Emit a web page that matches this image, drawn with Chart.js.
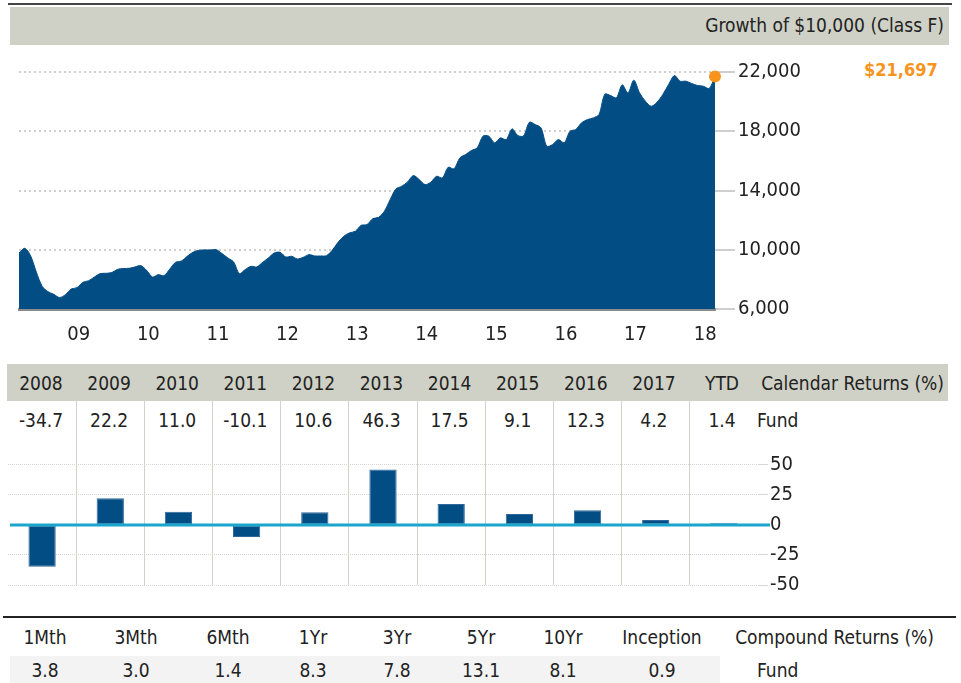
<!DOCTYPE html>
<html><head><meta charset="utf-8">
<script src="https://cdn.jsdelivr.net/npm/chart.js@4.4.1/dist/chart.umd.min.js"></script>
<style>
html,body{margin:0;padding:0;background:#fff;}
body{width:961px;height:683px;position:relative;overflow:hidden;font-family:'Liberation Sans Narrow','DejaVu Sans Condensed','Roboto Condensed',Roboto,sans-serif;color:#222;}
.abs{position:absolute;}
.cell{position:absolute;text-align:center;font-size:19px;line-height:20px;white-space:nowrap;}
.lbl{position:absolute;font-size:19px;line-height:20px;white-space:nowrap;}
canvas{position:absolute;}
</style></head>
<body>
<div class="abs" style="left:8px;top:3px;width:944px;height:2px;background:#444;"></div>
<div class="abs" style="left:10px;top:7px;width:939px;height:38px;background:#cfd1c6;"></div>
<div class="lbl" style="right:17px;top:15px;">Growth of $10,000 (Class F)</div>
<div id="endLabel" class="lbl" style="left:864px;top:60px;color:#f7941d;font-weight:bold;font-size:18px;"></div>

<canvas id="growth" width="830" height="300" style="left:0;top:50px;width:830px;height:300px;"></canvas>

<div class="abs" style="left:7px;top:364px;width:941px;height:37px;background:#cfd1c6;"></div>
<div id="calHead"></div>
<div class="lbl" style="right:17px;top:373px;">Calendar Returns (%)</div>
<div id="calVals"></div>
<div class="lbl" style="left:757px;top:410px;">Fund</div>

<canvas id="bars" width="830" height="220" style="left:0;top:381px;width:830px;height:220px;"></canvas>

<div class="abs" style="left:3px;top:616px;width:953px;height:2px;background:#222;"></div>
<div class="abs" style="left:10px;top:656px;width:710px;height:27px;background:#f3f3f3;"></div>
<div id="compHead"></div>
<div id="compVals"></div>
<div class="lbl" style="right:27px;top:627px;">Compound Returns (%)</div>
<div class="lbl" style="left:757px;top:660px;">Fund</div>

<script>
// ---------- data ----------
const growthValues = [
 9780,10100,9600,8480,7530,7170,6990,6770,6970,7350,7440,7800,
 7910,8160,8390,8410,8460,8680,8730,8750,8840,8930,8610,8160,
 8320,8250,8700,9150,9240,9560,9830,9960,9990,9990,10010,9740,
 9450,9180,8390,8660,8880,8840,9150,9450,9780,9830,9510,9560,
 9380,9490,9670,9580,9580,9600,9960,10500,10910,11140,11250,11650,
 11700,12100,12190,12600,13390,14110,14290,14580,15010,14740,14400,14560,
 14960,14850,15570,15460,16200,16430,16700,16880,17670,17670,17220,17550,
 17440,18160,17710,17690,18610,18450,18230,16990,17100,17440,17220,18000,
 18120,18570,18790,18900,19130,20500,20410,20260,21130,20590,21450,20590,
 20030,19690,19960,20480,21160,21760,21380,21380,21220,21090,21040,20890,
 21697
];
const yearTickLabels = ['09','10','11','12','13','14','15','16','17','18'];
const growthTicks = [6000,10000,14000,18000,22000];

const calendarYears = ['2008','2009','2010','2011','2012','2013','2014','2015','2016','2017','YTD'];
const calendarReturns = [-34.7,22.2,11.0,-10.1,10.6,46.3,17.5,9.1,12.3,4.2,1.4];
const barTicks = [-50,-25,0,25,50];

const compoundPeriods = ['1Mth','3Mth','6Mth','1Yr','3Yr','5Yr','10Yr','Inception'];
const compoundReturns = [3.8,3.0,1.4,8.3,7.8,13.1,8.1,0.9];

// ---------- styles ----------
const FONT = "'Liberation Sans Narrow','DejaVu Sans Condensed','Roboto Condensed',Roboto,sans-serif";
const NAVY = '#034d85';
const ORANGE = '#f7941d';

// ---------- html table text ----------
function cells(id, arr, centers, top){
  const el = document.getElementById(id);
  arr.forEach((t,i)=>{
    const d = document.createElement('div');
    d.className='cell';
    d.style.left = (centers[i]-45)+'px';
    d.style.width = '90px';
    d.style.top = top+'px';
    d.textContent = t;
    el.appendChild(d);
  });
}
const calCenters = calendarYears.map((_,i)=>41+68.1*i);
cells('calHead', calendarYears, calCenters, 373);
cells('calVals', calendarReturns.map(v=>v.toFixed(1)), calCenters, 410);
const compCenters = [45,136,228,313,397,481,563,662];
cells('compHead', compoundPeriods, compCenters, 627);
cells('compVals', compoundReturns.map(v=>v.toFixed(1)), compCenters, 660);

const lastVal = growthValues[growthValues.length-1];
document.getElementById('endLabel').textContent = '$' + lastVal.toLocaleString('en-US');

// ---------- growth area chart ----------
const lastIdx = growthValues.length-1;
new Chart(document.getElementById('growth'), {
  type:'line',
  data:{ datasets:[{
    data: growthValues.map((v,i)=>({x:i,y:v})),
    fill:'start',
    backgroundColor: NAVY,
    borderColor: NAVY,
    borderWidth: 1,
    tension: 0.3,
    clip: false,
    pointRadius: c => c.dataIndex===lastIdx ? 6 : 0,
    pointHoverRadius: c => c.dataIndex===lastIdx ? 6 : 0,
    pointBackgroundColor: ORANGE,
    pointBorderWidth: 0
  }]},
  options:{
    responsive:false, animation:false, devicePixelRatio:1,
    layout:{padding:{left:19,top:22,right:0,bottom:0}},
    plugins:{legend:{display:false},tooltip:{enabled:false}},
    scales:{
      x:{ type:'linear', min:0, max:lastIdx,
          afterBuildTicks: s => { s.ticks = yearTickLabels.map((l,i)=>({value:10.3+12*i})); },
          afterFit: s => { s.height = 41; },
          ticks:{ callback:(v,i)=>yearTickLabels[i], font:{family:FONT,size:20}, color:'#222', padding:14, maxRotation:0, autoSkip:false },
          grid:{ display:false, drawTicks:false },
          border:{ display:true, color:'#8c8c8c', width:3 }
      },
      y:{ position:'right', min:6000, max:22000,
          afterBuildTicks: s => { s.ticks = growthTicks.map(v=>({value:v})); },
          afterFit: s => { s.width = 115; },
          ticks:{ callback:v=>v.toLocaleString('en-US'), font:{family:FONT,size:20}, color:'#222', padding:3 },
          grid:{ color:'#cfcfcf', lineWidth:2, tickLength:20 },
          border:{ display:false, dash:[2,3] }
      }
    }
  }
});

// ---------- calendar returns bar chart ----------
const zeroLine = {
  id:'zeroLine',
  afterDatasetsDraw(chart){
    const y = chart.scales.y.getPixelForValue(0);
    const {left,right} = chart.chartArea;
    const c = chart.ctx;
    c.save();
    c.strokeStyle = '#1aa6cc';
    c.lineWidth = 3;
    c.beginPath(); c.moveTo(left+2, y); c.lineTo(right+12, y); c.stroke();
    c.restore();
  }
};
new Chart(document.getElementById('bars'), {
  type:'bar',
  data:{ labels: calendarYears, datasets:[{
    data: calendarReturns,
    backgroundColor: NAVY,
    borderColor: '#2f679a',
    borderWidth: 1,
    borderSkipped: false,
    barPercentage: 0.4,
    categoryPercentage: 1.0
  }]},
  options:{
    responsive:false, animation:false, devicePixelRatio:1,
    layout:{padding:{left:8,top:20,right:0,bottom:0}},
    plugins:{legend:{display:false},tooltip:{enabled:false}},
    scales:{
      x:{ afterFit: s => { s.height = 16; },
          ticks:{display:false},
          grid:{ offset:true, drawTicks:false, lineWidth:1,
                 color: c => (c.index>=1 && c.index<=calendarYears.length-1) ? '#d2d2cc' : 'rgba(0,0,0,0)' },
          border:{display:false}
      },
      y:{ position:'right', min:-50, max:103.3,
          afterBuildTicks: s => { s.ticks = barTicks.map(v=>({value:v})); },
          afterFit: s => { s.width = 72; },
          ticks:{ font:{family:FONT,size:20}, color:'#222', padding:2 },
          grid:{ color: c => c.tick && c.tick.value===0 ? 'rgba(0,0,0,0)' : '#d6d6d6', lineWidth:1, tickLength:10 },
          border:{ display:false, dash:[1,1] }
      }
    }
  },
  plugins:[zeroLine]
});
</script>
</body></html>
